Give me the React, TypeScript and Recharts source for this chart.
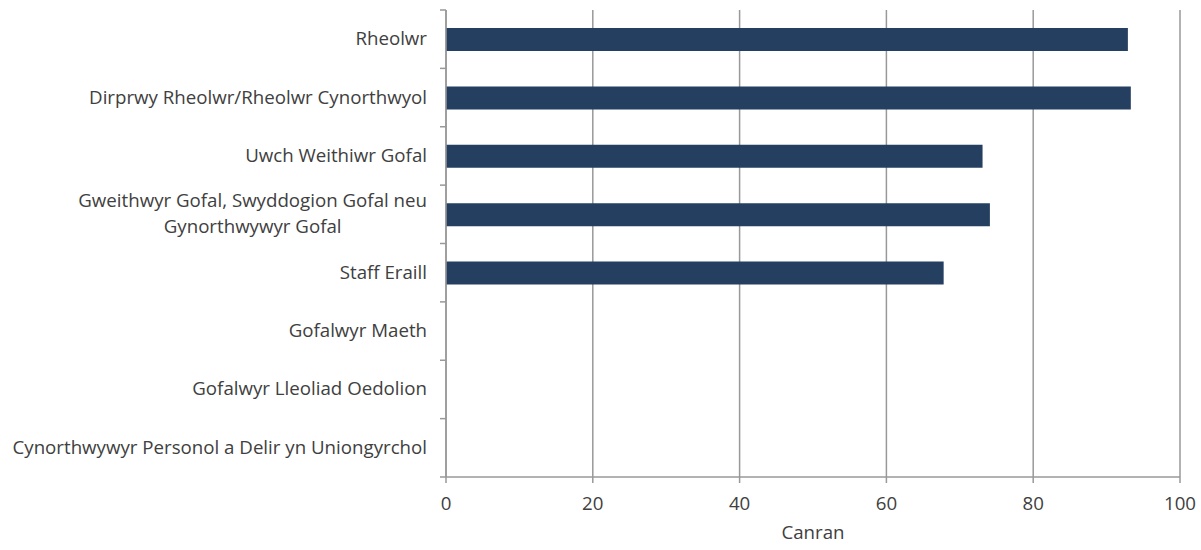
import { BarChart, Bar, XAxis, YAxis, CartesianGrid } from 'recharts';

const categories = [
  'Rheolwr',
  'Dirprwy Rheolwr/Rheolwr Cynorthwyol',
  'Uwch Weithiwr Gofal',
  'Gweithwyr Gofal, Swyddogion Gofal neu\nGynorthwywyr Gofal',
  'Staff Eraill',
  'Gofalwyr Maeth',
  'Gofalwyr Lleoliad Oedolion',
  'Cynorthwywyr Personol a Delir yn Uniongyrchol',
];
const values = [92.9, 93.3, 73.1, 74.1, 67.8, null, null, null];
const xTicks = [0, 20, 40, 60, 80, 100];

const data = categories.map((name, i) => ({ name, value: values[i] }));

const W = 1201;
const H = 550;
const TOP = 10;
const BOTTOM = 73;
const AXIS_W = 446;
const BAND = (H - TOP - BOTTOM) / categories.length;
const FONT = '"Open Sans", sans-serif';
const FS = 18.7;
const TEXT = '#404040';
const GRID = '#999999';

function CategoryTick(props: any) {
  const { x, y, payload, index } = props;
  const lines = String(payload.value).split('\n');
  const lh = 26;
  const h = lines.length * lh;
  return (
    <g>
      <line x1={x - 6} x2={x} y1={y - BAND / 2} y2={y - BAND / 2} stroke={GRID} strokeWidth={1.5} />
      {index === categories.length - 1 && (
        <line x1={x - 6} x2={x} y1={y + BAND / 2} y2={y + BAND / 2} stroke={GRID} strokeWidth={1.5} />
      )}
      <foreignObject x={0} y={y - h / 2 - 1} width={x - 19} height={h + 2}>
        <div style={{ textAlign: 'right', fontFamily: FONT, fontSize: FS, lineHeight: `${lh}px`, color: TEXT, whiteSpace: 'nowrap' }}>
          <span style={{ display: 'inline-block', textAlign: 'center' }}>
            {lines.map((l, i) => (
              <div key={i}>{l}</div>
            ))}
          </span>
        </div>
      </foreignObject>
    </g>
  );
}

export default function App() {
  return (
    <div style={{ position: 'absolute', left: 0, top: 0, width: W, height: H, background: '#fff' }}>
      <BarChart
        width={W}
        height={H}
        data={data}
        layout="vertical"
        margin={{ top: TOP, right: 21, bottom: 0, left: 0 }}
        barSize={23}
      >
        <CartesianGrid horizontal={false} stroke={GRID} strokeWidth={1.5} />
        <XAxis
          type="number"
          domain={[0, 100]}
          ticks={xTicks}
          interval={0}
          height={BOTTOM}
          axisLine={{ stroke: GRID, strokeWidth: 1.5 }}
          tickLine={{ stroke: GRID, strokeWidth: 1.5 }}
          tickSize={6}
          tickMargin={14}
          tick={{ fontSize: FS, fill: TEXT, fontFamily: FONT }}
          label={{ value: 'Canran', position: 'insideBottom', offset: 11, fontSize: FS, fill: TEXT, fontFamily: FONT }}
        />
        <YAxis
          type="category"
          dataKey="name"
          width={AXIS_W}
          interval={0}
          axisLine={{ stroke: GRID, strokeWidth: 1.5 }}
          tickLine={false}
          tickSize={0}
          tickMargin={0}
          tick={<CategoryTick />}
        />
        <Bar dataKey="value" fill="#243F60" isAnimationActive={false} />
      </BarChart>
    </div>
  );
}
